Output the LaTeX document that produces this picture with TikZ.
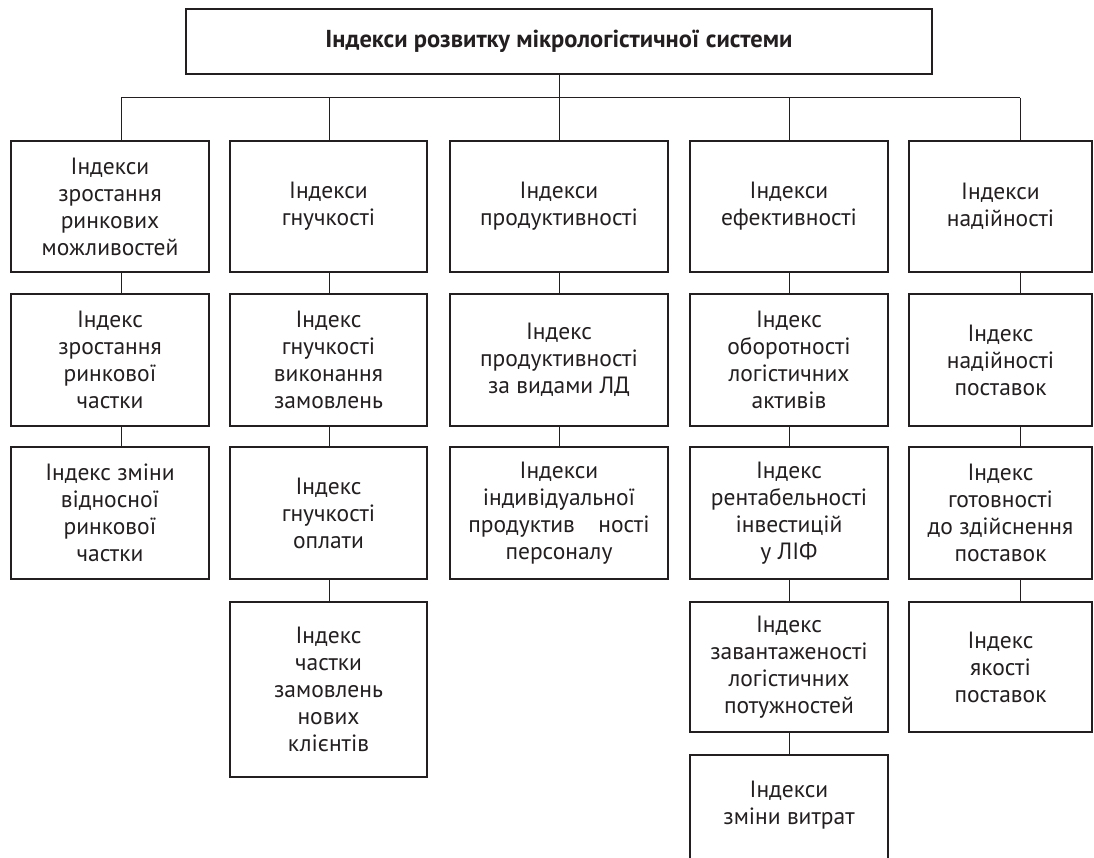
\documentclass[tikz,border=0pt]{standalone}
\usepackage{fontspec}
\setmainfont{PT Sans}
\usepackage{xcolor}
\usetikzlibrary{positioning}
\definecolor{ink}{HTML}{231F20}
\tikzset{
	box/.style = {
			draw=ink, line width=2.6pt, fill=white,
			align=center, text=ink,
			inner sep=4pt,
			font=\fontsize{23.5}{27}\selectfont,
		},
	link/.style = {draw=ink, line width=1pt},
}

\begin{document}
\begin{tikzpicture}[x=1pt, y=-1pt]
	\clip (0,0) rectangle (1094,858);

	% top
	\node[box, minimum width=746, minimum height=65, font=\fontsize{24.5}{27}\selectfont\bfseries] (top) at (559,41.5) {Індекси розвитку мікрологістичної системи};

	% col 1
	\node[box, minimum width=198, minimum height=131] (c1a) at (110,206.5) {Індекси\\зростання\\ринкових\\можливостей};
	\node[box, minimum width=198, minimum height=132] (c1b) at (110,360) {Індекс\\зростання\\ринкової\\частки};
	\node[box, minimum width=198, minimum height=132] (c1c) at (110,513) {Індекс зміни\\відносної\\ринкової\\частки};

	% col 2
	\node[box, minimum width=197, minimum height=131] (c2a) at (328.5,206.5) {Індекси\\гнучкості};
	\node[box, minimum width=197, minimum height=132] (c2b) at (328.5,360) {Індекс\\гнучкості\\виконання\\замовлень};
	\node[box, minimum width=197, minimum height=132] (c2c) at (328.5,513) {Індекс\\гнучкості\\оплати};
	\node[box, minimum width=197, minimum height=175] (c2d) at (328.5,689.5) {Індекс\\частки\\замовлень\\нових\\клієнтів};

	% col 3
	\node[box, minimum width=218, minimum height=131] (c3a) at (559,206.5) {Індекси\\продуктивності};
	\node[box, minimum width=218, minimum height=132] (c3b) at (559,360) {Індекс\\продуктивності\\за видами ЛД};
	\node[box, minimum width=218, minimum height=132] (c3c) at (559,513) {Індекси\\індивідуальної\\продуктив\quad ності\\персоналу};

	% col 4
	\node[box, minimum width=198, minimum height=131] (c4a) at (789,206.5) {Індекси\\ефективності};
	\node[box, minimum width=198, minimum height=132] (c4b) at (789,360) {Індекс\\оборотності\\логістичних\\активів};
	\node[box, minimum width=198, minimum height=132] (c4c) at (789,513) {Індекс\\рентабельності\\інвестицій\\у ЛІФ};
	\node[box, minimum width=198, minimum height=130] (c4d) at (789,667) {Індекс\\завантаженості\\логістичних\\потужностей};
	\node[box, minimum width=198, minimum height=130, text depth=35pt] (c4e) at (789,820) {Індекси\\зміни витрат};

	% col 5
	\node[box, minimum width=183, minimum height=131] (c5a) at (1000.5,206.5) {Індекси\\надійності};
	\node[box, minimum width=183, minimum height=132] (c5b) at (1000.5,360) {Індекс\\надійності\\поставок};
	\node[box, minimum width=183, minimum height=132] (c5c) at (1000.5,513) {Індекс\\готовності\\до здійснення\\поставок};
	\node[box, minimum width=183, minimum height=130] (c5d) at (1000.5,667) {Індекс\\якості\\поставок};

	% bus
	\coordinate (t1) at (121,98);
	\coordinate (t2) at (329,98);
	\coordinate (t3) at (559,98);
	\coordinate (t4) at (789,98);
	\coordinate (t5) at (1020,98);
	\draw[link] (top.south) -- (t3);
	\draw[link] (t1) -- (t5);
	\foreach \i in {1,...,5}
		\draw[link] (t\i) -- (c\i a.north -| t\i);

	% chains
	\foreach \u/\v/\t in {c1a/c1b/t1, c1b/c1c/t1, c2a/c2b/t2, c2b/c2c/t2, c2c/c2d/t2,
			c3a/c3b/t3, c3b/c3c/t3, c4a/c4b/t4, c4b/c4c/t4, c4c/c4d/t4, c4d/c4e/t4,
			c5a/c5b/t5, c5b/c5c/t5, c5c/c5d/t5}
		\draw[link] (\u.south -| \t) -- (\v.north -| \t);
\end{tikzpicture}
\end{document}
